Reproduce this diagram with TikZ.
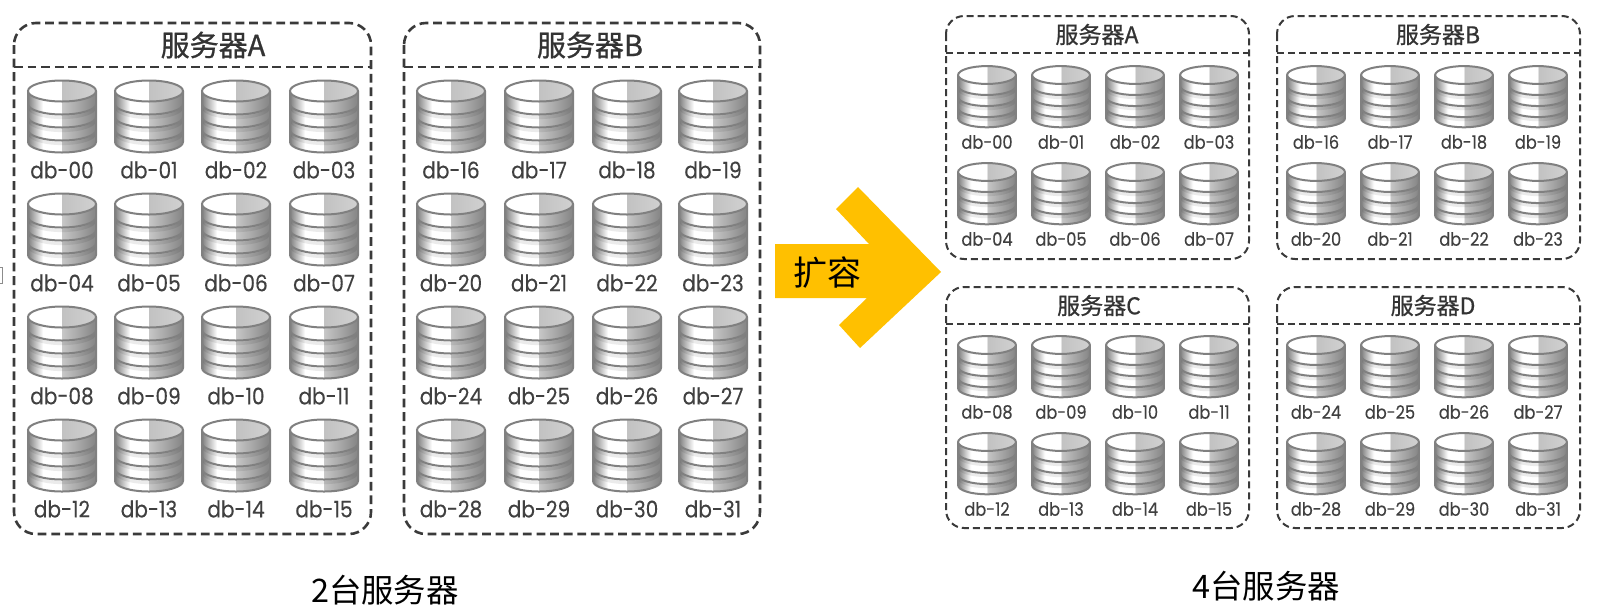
\documentclass[tikz,border=0pt]{standalone}
\usepackage{fontspec}
\newfontfamily\cjk{Noto Sans CJK SC}
\newfontfamily\cjkhead[FakeBold=0.8]{Noto Sans CJK SC}
\newfontfamily\dbfont[FakeStretch=0.88,FakeBold=0.3]{Poppins}
\definecolor{dbedge}{HTML}{808080}
\definecolor{dbtext}{HTML}{404040}
\definecolor{boxline}{HTML}{3A3A3A}
\definecolor{arrowfill}{HTML}{FFC000}
\pgfdeclarehorizontalshading{dbbody}{100bp}{color(0bp)=(black!50); color(25bp)=(black!50); color(36bp)=(white); color(49.9bp)=(white); color(50bp)=(black!22); color(75bp)=(black!48); color(100bp)=(black!48)}
\pgfdeclarehorizontalshading{dbtop}{100bp}{color(0bp)=(white); color(49.9bp)=(white); color(50bp)=(black!24); color(100bp)=(black!12)}
\tikzset{
	bigbox/.style={draw=boxline, dash pattern=on 4.4pt off 2.4pt, line width=1.3pt, rounded corners=11pt},
	smallbox/.style={draw=boxline, dash pattern=on 3.5pt off 2pt, line width=1pt, rounded corners=9pt},
	bighead/.style={text=black!80, font=\cjkhead\fontsize{14.5}{14.5}\selectfont},
	smallhead/.style={text=black!80, font=\cjkhead\fontsize{11.5}{11.5}\selectfont},
	dblabel/.style={text=dbtext, inner sep=0pt, font=\dbfont\fontsize{#1}{#1}\selectfont},
	caption/.style={text=black, font=\cjk\fontsize{16.2}{16.2}\selectfont}
}
% #1 x, #2 y of the top disc, #3 scale, #4 name, #5 label, #6 label size, #7 label offset
\newcommand{\dbdisk}[7]{
	\begin{scope}[shift={(#1,#2)}, scale=#3]
		\shade[shading=dbbody] (-34,0) -- (-34,51) arc[start angle=180, end angle=0, x radius=34, y radius=10.5] -- (34,0) -- cycle;
		\foreach \band in {13,26,39}{
			\draw[black, opacity=0.08, line width=1.6pt] (-33,\band+3) arc[start angle=180, end angle=0, x radius=33, y radius=10.5];
			\draw[dbedge, line width=1pt] (-34,\band) arc[start angle=180, end angle=0, x radius=34, y radius=10.5];
		}
		\draw[dbedge, line width=1pt] (-34,0) -- (-34,51) arc[start angle=180, end angle=0, x radius=34, y radius=10.5] -- (34,0);
		\shade[shading=dbtop] (0,0) ellipse[x radius=34, y radius=10.5];
		\draw[dbedge, line width=1pt] (0,0) ellipse[x radius=34, y radius=10.5];
	\end{scope}
	\node[dblabel=#6] (#4) at (#1,#2+#7) {#5};
}
% #1 left, #2 right, #3 top, #4 header line, #5 bottom, #6 big or small, #7 name, #8 title, #9 title x
\newcommand{\serverbox}[9]{
	\draw[#6box] (#1,#3) rectangle (#2,#5);
	\draw[#6box] (#1,#4) -- (#2,#4);
	\node[#6head] (#7) at (#9,{(#3+#4)/2}) {#8};
}
\begin{document}
\begin{tikzpicture}[x=0.5pt, y=-0.5pt]
	\useasboundingbox (0,0) rectangle (1598,606);

	% Marca del borde
		\draw[black!45, line width=0.4pt] (-1,267) -- (2.5,267) -- (2.5,283) -- (-1,283);

	% 2 servidores
		\serverbox{14}{371}{23}{67}{534}{big}{headLA}{服务器A}{213}
		\serverbox{404}{760}{23}{67}{534}{big}{headLB}{服务器B}{590}
		\foreach \row/\y in {0/91,1/204,2/317,3/430}
			\foreach \col/\x in {0/62,1/149,2/236,3/324}{
				\pgfmathtruncatemacro{\num}{\row*4+\col}
				\pgfmathsetmacro{\tag}{\num<10 ? "0" : ""}
				\dbdisk{\x}{\y}{1}{dbL\num}{db-\tag\num}{11.4}{79}
			}
		\foreach \row/\y in {0/91,1/204,2/317,3/430}
			\foreach \col/\x in {0/451,1/539,2/627,3/713}{
				\pgfmathtruncatemacro{\num}{16+\row*4+\col}
				\dbdisk{\x}{\y}{1}{dbL\num}{db-\num}{11.4}{79}
			}
		\node[caption] (captionL) at (385,590) {2台服务器};

	% Flecha
		\fill[arrowfill] (775,244) -- (869,244) -- (836,209) -- (858,187) -- (941,272) -- (860,348) -- (839,325) -- (867,298) -- (775,298) -- cycle;
		\node[text=black, font=\cjk\fontsize{17}{17}\selectfont] (expand) at (827,273) {扩容};

	% 4 servidores
		\serverbox{946}{1249}{16}{53}{259}{small}{headRA}{服务器A}{1097}
		\serverbox{1277}{1580}{16}{53}{259}{small}{headRB}{服务器B}{1438}
		\serverbox{946}{1249}{287}{324}{528}{small}{headRC}{服务器C}{1099}
		\serverbox{1277}{1580}{287}{324}{528}{small}{headRD}{服务器D}{1433}
		\foreach \bx/\by/\base in {987/75/0,1316/75/16,987/345/8,1316/345/24}
			\foreach \row in {0,1}
				\foreach \col in {0,1,2,3}{
					\pgfmathtruncatemacro{\num}{\base+\row*4+\col}
					\pgfmathsetmacro{\tag}{\num<10 ? "0" : ""}
					\dbdisk{\bx+74*\col}{\by+97*\row}{0.85}{dbR\num}{db-\tag\num}{9.2}{67}
				}
		\node[caption] (captionR) at (1266,586) {4台服务器};
\end{tikzpicture}
\end{document}
